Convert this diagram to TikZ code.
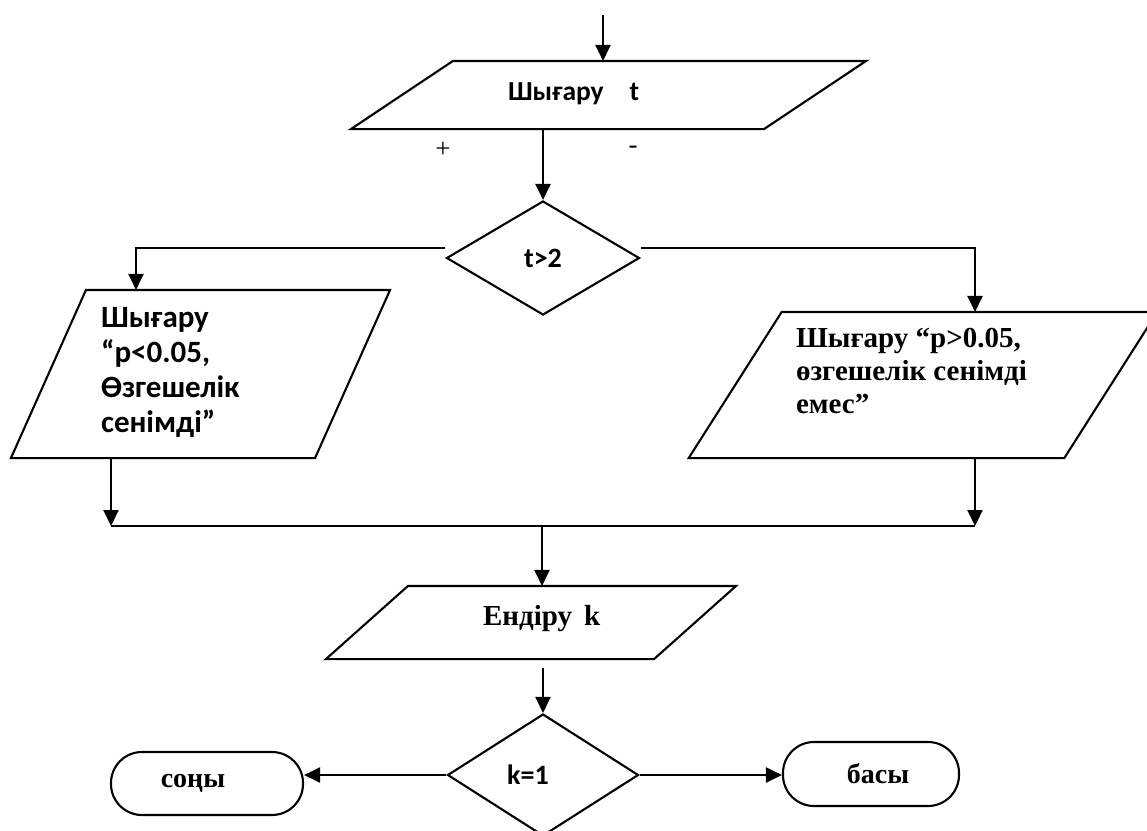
\documentclass[tikz,border=0pt]{standalone}
\usepackage{fontspec}
\setmainfont{Liberation Serif}
\newfontfamily\calib{Carlito}
\newfontfamily\tmsr{Liberation Serif}
\usetikzlibrary{arrows.meta,shapes.geometric}
\newcommand\drawpara[2]{\draw ([xshift=#2]#1.north west) -- ([xshift=#2]#1.north east) -- ([xshift=-#2]#1.south east) -- ([xshift=-#2]#1.south west) -- cycle;}
\begin{document}
\begin{tikzpicture}[x=1pt,y=-1pt,
  line width=2.1pt,
  arr/.style={-{Triangle[length=16pt,width=15pt]}},
  pbox/.style={rectangle, inner sep=0pt},
  dec/.style={diamond, draw, inner sep=0pt, minimum width=193pt},
  term/.style={draw, rectangle, rounded corners=31pt, inner sep=0pt},
  cb/.style={inner sep=0pt, font=\calib\bfseries\fontsize{28}{35}\selectfont},
  tb/.style={inner sep=0pt, font=\tmsr\bfseries\fontsize{29}{33}\selectfont},
  sg/.style={inner sep=0pt, font=\tmsr\fontsize{27}{30}\selectfont},
]
\useasboundingbox (0,0) rectangle (1147,830);
\clip (0,0) rectangle (1147,830);

% shapes
\node[pbox, minimum width=411pt, minimum height=66pt] (out1) at (608.5,95) {};
\drawpara{out1}{51pt}
\node[pbox, minimum width=302pt, minimum height=166pt] (lpara) at (200.5,374) {};
\drawpara{lpara}{37.5pt}
\node[pbox, minimum width=373.5pt, minimum height=144pt] (rpara) at (923,385) {};
\drawpara{rpara}{46.5pt}
\node[pbox, minimum width=326pt, minimum height=71pt] (inp) at (531,622.5) {};
\drawpara{inp}{41pt}

\node[dec, minimum height=114pt, cb] (d1) at (543,258) {t>2};
\node[dec, minimum height=122pt, minimum width=191pt, cb] (d2) at (543,775) {k=1\hspace*{30pt}};

\node[term, minimum width=192pt, minimum height=63pt, tb, font=\tmsr\bfseries\fontsize{28}{33}\selectfont] (endn) at (207,783.5) {соңы\hspace*{28pt}};
\node[term, minimum width=176pt, minimum height=64pt, tb, font=\tmsr\bfseries\fontsize{28}{33}\selectfont] (startn) at (871,774) {\hspace*{14pt}басы};

% texts
\node[cb, anchor=base west, font=\calib\bfseries\fontsize{27.5}{30}\selectfont] (t1) at (507,100) {Шығару\hspace*{26pt}t};
\node[cb, anchor=base west, align=left, font=\calib\bfseries\fontsize{31}{35}\selectfont] (t2) at (100,432) {Шығару\\“р<0.05,\\Өзгешелік\\сенімді”};
\node[tb, anchor=base west, align=left] (t3) at (795,413) {Шығару “р>0.05,\\өзгешелік сенімді\\емес”};
\node[tb, anchor=base west] (t4) at (482,625) {Ендіру\hspace*{12pt}k};
\node[sg] (plus) at (443,150) {+};
\node[sg] (minus) at (633,150) {-};

% connectors
\coordinate (top) at (603,15);
\draw[arr] (top) -- (top |- out1.north);
\draw[arr] (out1.south -| d1.north) -- (d1.north);
\draw[arr] ([yshift=10pt]d1.west) -| ([xshift=-64.5pt]lpara.north);
\draw[arr] ([yshift=10pt]d1.east) -| ([xshift=52pt]rpara.north);

\coordinate (jl) at (111,526);
\coordinate (jr) at (975,526);
\coordinate (jm) at (542,526);
\draw[arr] (lpara.south -| jl) -- (jl);
\draw[arr] (rpara.south -| jr) -- (jr);
\draw (jl) -- (jr);
\draw[arr] (jm) -- (jm |- inp.north);
\draw[arr, shorten <=9pt] (inp.south -| d2.north) -- (d2.north);
\draw[arr] (d2.west) -- (d2.west -| endn.east);
\draw[arr] (d2.east) -- (d2.east -| startn.west);
\end{tikzpicture}
\end{document}
